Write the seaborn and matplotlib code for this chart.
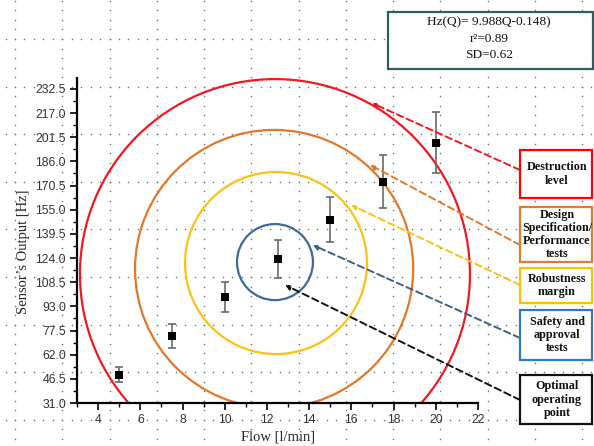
import numpy as np
import pandas as pd
import seaborn as sns
import matplotlib.pyplot as plt
from matplotlib.patches import Ellipse, Rectangle

# measured sensor output vs flow
flow = [5, 7.5, 10, 12.5, 15, 17.5, 20]
output = [49.0, 74.0, 99.0, 123.5, 148.5, 173.0, 198.0]
output_sd = [4.8, 7.4, 9.9, 12.3, 14.4, 16.9, 19.5]

y_ticks = [31.0, 46.5, 62.0, 77.5, 93.0, 108.5, 124.0, 139.5, 155.0, 170.5, 186.0, 201.5, 217.0, 232.5]
x_ticks = [4, 6, 8, 10, 12, 14, 16, 18, 20, 22]

# operating zones: name, colour, centre (flow, Hz), half width, half height
zone_names = ['Destruction\nlevel', 'Design\nSpecification/\nPerformance\ntests',
              'Robustness\nmargin', 'Safety and\napproval\ntests', 'Optimal\noperating\npoint']
zone_colors = ['#F2181F', '#E2782A', '#FDC116', '#40699A', None]
zone_box_colors = ['#FF0000', '#E07B28', '#FFC000', '#2E78C0', '#111111']
zone_arrow_colors = ['#F2181F', '#E2782A', '#FDC116', '#3F5F88', '#111111']
zone_centre = [(12.38, 113.7), (12.34, 117.0), (12.43, 120.8), (12.38, 121.4), None]
zone_rx = [9.24, 6.59, 4.31, 1.80, None]
zone_ry = [125.1, 89.2, 58.4, 24.4, None]
arrow_heads = [(16.98, 223.4), (16.89, 183.7), (15.99, 158.0), (14.18, 132.3), (12.86, 106.7)]

# label boxes, pixel rows (top, bottom) and the arrow tail height
box_rows = [(150, 198), (207, 262), (268, 303), (310, 360), (375, 424)]
tail_rows = [170, 245, 285, 338, 400]

fit_lines = ['Hz(Q)= 9.988Q-0.148)', 'r\u00b2=0.89', 'SD=0.62']

W, H = 594, 446
sns.set_style('ticks')
plt.rcParams['font.family'] = ['Liberation Sans', 'DejaVu Sans']

fig = plt.figure(figsize=(W / 100, H / 100), dpi=100)

def fx(px):
    return px / W

def fy(py):
    return 1 - py / H

# dotted page grid behind everything
bg = fig.add_axes([0, 0, 1, 1], zorder=-5)
bg.set_xlim(0, W)
bg.set_ylim(H, 0)
bg.axis('off')
col_x = np.arange(15, W, 47.25)
row_y = np.arange(39, H, 47.6)
fine_x = np.arange(15 - 9.45 * 2, W, 9.45)
fine_y = np.arange(39 - 9.52 * 4, H, 9.52)
gx, gy = np.meshgrid(fine_x, row_y)
bg.scatter(gx.ravel(), gy.ravel(), s=1.2, color='#707070', linewidths=0)
gx, gy = np.meshgrid(col_x, fine_y)
bg.scatter(gx.ravel(), gy.ravel(), s=1.2, color='#707070', linewidths=0)

ax = fig.add_axes([fx(77), fy(403), fx(478) - fx(77), fy(78) - fy(403)])
ax.set_facecolor('none')

df = pd.DataFrame({'flow': flow, 'output': output, 'sd': output_sd})

for i in range(4):
    ax.add_patch(Ellipse(zone_centre[i], 2 * zone_rx[i], 2 * zone_ry[i], fill=False,
                         edgecolor=zone_colors[i], lw=1.6, zorder=2))

ax.errorbar(df['flow'], df['output'], yerr=df['sd'], fmt='none', ecolor='#6a6a6a',
            elinewidth=1.2, capsize=3, capthick=1.2, zorder=3)
sns.scatterplot(data=df, x='flow', y='output', marker='s', color='black', s=26,
                edgecolor='black', linewidth=0, zorder=4, ax=ax)

ax.set_xlim(3, 22)
ax.set_ylim(31, 239.5)
ax.set_xticks(x_ticks)
ax.set_xticks(np.arange(3, 22, 2), minor=True)
ax.set_yticks(y_ticks)
ax.set_yticklabels(['%.1f' % v for v in y_ticks])
ax.set_yticks(np.arange(31 + 7.75, 240, 15.5), minor=True)
ax.tick_params(which='major', direction='out', length=5, width=1.2, pad=3,
               labelsize=8.8, labelcolor='#333333', color='black')
ax.tick_params(which='minor', direction='out', length=3, width=1.0, color='black')
for s in ['top', 'right']:
    ax.spines[s].set_visible(False)
for s in ['left', 'bottom']:
    ax.spines[s].set_linewidth(1.6)
    ax.spines[s].set_color('black')

ax.set_xlabel('Flow [l/min]', family=['Liberation Serif'], fontsize=10.5)
ax.set_ylabel('Sensor\u2019s Output [Hz]', family=['Liberation Serif'], fontsize=10.5)
ax.xaxis.set_label_coords(0.501, -0.086)
ax.yaxis.set_label_coords(-0.118, 0.465)

# arrows from label boxes to the zones
for i in range(5):
    ax.annotate('', xy=arrow_heads[i], xycoords='data',
                xytext=(fx(520), fy(tail_rows[i])), textcoords='figure fraction',
                annotation_clip=False,
                arrowprops=dict(arrowstyle='-|>', color=zone_arrow_colors[i], lw=1.4,
                                linestyle=(0, (3.5, 2)), mutation_scale=7,
                                shrinkA=0, shrinkB=0))

# label boxes
for i in range(5):
    top, bottom = box_rows[i]
    fig.add_artist(Rectangle((fx(520), fy(bottom)), fx(592) - fx(520), fy(top) - fy(bottom),
                             transform=fig.transFigure, fill=True, facecolor='white',
                             edgecolor=zone_box_colors[i], lw=1.6, zorder=6))
    fig.text(fx(557), fy((top + bottom) / 2), zone_names[i], ha='center', va='center',
             family=['Liberation Serif'], fontweight='bold', fontsize=8.7,
             linespacing=1.12, color='#111111', zorder=7)

# fit box
fig.add_artist(Rectangle((fx(388), fy(69)), fx(593) - fx(388), fy(12) - fy(69),
                         transform=fig.transFigure, fill=True, facecolor='white',
                         edgecolor='#2F5E5E', lw=1.6, zorder=6))
for line, row in zip(fit_lines, [22, 38.5, 55]):
    fig.text(fx(489), fy(row), line, ha='center', va='center', family=['Liberation Serif'],
             fontsize=9.6, color='#111111', zorder=7)

fig.savefig('out.png', dpi=100)
